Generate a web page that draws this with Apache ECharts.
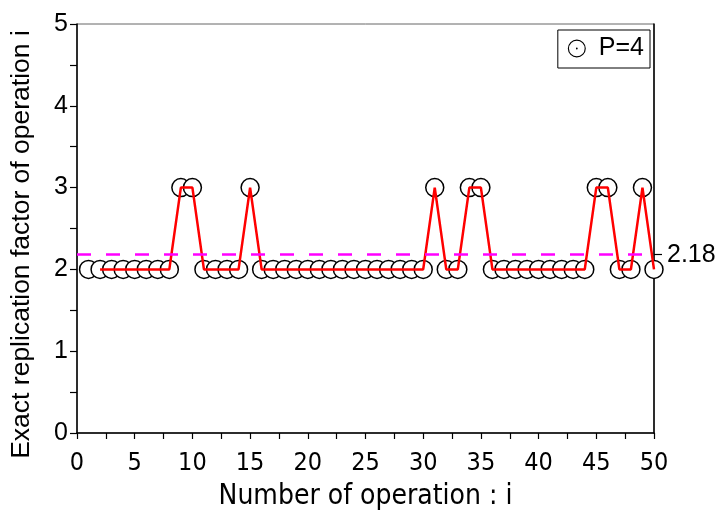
<!DOCTYPE html>
<html>
<head>
<meta charset="utf-8">
<script src="https://cdn.jsdelivr.net/npm/echarts@6/dist/echarts.min.js"></script>
<style>html,body{margin:0;padding:0;background:#fff;}#c{width:715px;height:512px;}</style>
</head>
<body>
<div id="c"></div>
<script>
// operation indices
const operations = [1,2,3,4,5,6,7,8,9,10,11,12,13,14,15,16,17,18,19,20,21,22,23,24,25,26,27,28,29,30,31,32,33,34,35,36,37,38,39,40,41,42,43,44,45,46,47,48,49,50];
// exact replication factor per operation
const factors = [2,2,2,2,2,2,2,2,3,3,2,2,2,2,3,2,2,2,2,2,2,2,2,2,2,2,2,2,2,2,3,2,2,3,3,2,2,2,2,2,2,2,2,2,3,3,2,2,3,2];
const meanValue = 2.18;
const seriesName = 'P=4';
const xTicks = [0,5,10,15,20,25,30,35,40,45,50];
const yTicks = [0,1,2,3,4,5];

const scatterData = operations.map((x, i) => [x, factors[i]]);
const lineData = operations.slice(1).map((x, i) => [x, factors[i + 1]]);

const SANS = "'Liberation Sans', Arial, sans-serif";
const NARROW = "'Liberation Sans Narrow', 'DejaVu Sans Condensed', sans-serif";

const ringPath = 'path://M10,0A10,10 0 1,1 10,20A10,10 0 1,1 10,0Z M10,1.3A8.7,8.7 0 1,0 10,18.7A8.7,8.7 0 1,0 10,1.3Z M10,9A1,1 0 1,1 10,11A1,1 0 1,1 10,9Z';

const chart = echarts.init(document.getElementById('c'), null, {renderer: 'canvas'});
chart.setOption({
  animation: false,
  backgroundColor: '#fff',
  grid: {left: 77, right: 61, top: 24, bottom: 79, show: true, borderColor: '#666', borderWidth: 1, containLabel: false, outerBoundsMode: 'none'},
  legend: {
    right: 65, top: 30,
    data: [{name: seriesName, icon: ringPath}],
    itemWidth: 18, itemHeight: 18, itemGap: 12,
    padding: [6, 6, 7, 10],
    borderColor: '#000', borderWidth: 1,
    textStyle: {fontFamily: SANS, fontSize: 25, color: '#000', padding: [0, 0, 0, 8]},
    itemStyle: {color: '#000', borderWidth: 0}
  },
  xAxis: {
    type: 'value', min: xTicks[0], max: xTicks[xTicks.length - 1], interval: 5,
    name: 'Number of operation : i', nameLocation: 'middle', nameGap: 50,
    nameTextStyle: {fontFamily: NARROW, fontSize: 28, color: '#000'},
    axisLine: {show: true, lineStyle: {color: '#000', width: 1.5}},
    axisTick: {show: true, length: 6, lineStyle: {color: '#000', width: 1.2}},
    minorTick: {show: true, splitNumber: 2, length: 6, lineStyle: {color: '#000', width: 1.2}},
    splitLine: {show: false},
    axisLabel: {margin: 18, fontFamily: NARROW, fontSize: 25, color: '#000'}
  },
  yAxis: [{
    type: 'value', min: yTicks[0], max: yTicks[yTicks.length - 1], interval: 1,
    name: 'Exact replication factor of operation i', nameLocation: 'middle', nameGap: 42,
    nameTextStyle: {fontFamily: SANS, fontSize: 26.5, color: '#000', padding: [0, 32, 0, 0]},
    axisLine: {show: true, lineStyle: {color: '#000', width: 1.5}},
    axisTick: {show: true, length: 7, lineStyle: {color: '#000', width: 1.2}},
    minorTick: {show: true, splitNumber: 2, length: 7, lineStyle: {color: '#000', width: 1.2}},
    splitLine: {show: false},
    axisLabel: {margin: 9, fontFamily: SANS, fontSize: 25, color: '#000'}
  }, {
    type: 'value', position: 'right', min: yTicks[0], max: yTicks[yTicks.length - 1],
    axisLine: {show: true, onZero: false, lineStyle: {color: '#000', width: 1.5}},
    axisTick: {show: true, length: 8, customValues: [meanValue], lineStyle: {color: '#000', width: 1.2}},
    axisLabel: {show: true, customValues: [meanValue], margin: 13, formatter: v => v.toFixed(2),
      fontFamily: SANS, fontSize: 25, color: '#000'},
    splitLine: {show: false}
  }],
  series: [{
    name: seriesName, type: 'scatter', data: scatterData,
    symbol: 'circle', symbolSize: 18,
    itemStyle: {color: '#fff', borderColor: '#000', borderWidth: 1.5, opacity: 1},
    z: 2
  }, {
    name: 'line', type: 'line', data: lineData, showSymbol: false, symbol: 'none',
    lineStyle: {color: '#ff0000', width: 2.5},
    z: 3,
    markLine: {
      silent: true, symbol: 'none', label: {show: false},
      lineStyle: {color: '#ff00ff', type: [14, 15], width: 2.5},
      data: [[{coord: [0, meanValue]}, {coord: [49, meanValue]}]]
    }
  }]
});
</script>
</body>
</html>
